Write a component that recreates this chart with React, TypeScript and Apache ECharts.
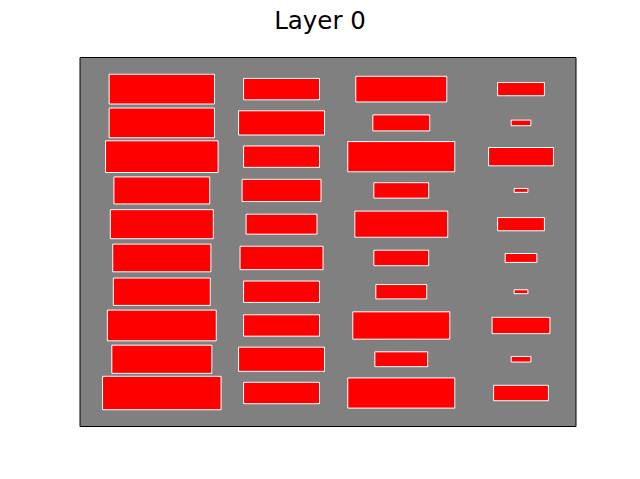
import React, { useEffect, useRef } from "react";
import * as echarts from "echarts";

// Layer 0: 4 columns x 10 rows of squares-in-data-units, sizes per column (top row first)
const columns = [0, 1, 2, 3];
const rows = [0, 1, 2, 3, 4, 5, 6, 7, 8, 9];
const col0Sizes = [0.88, 0.88, 0.94, 0.8, 0.86, 0.82, 0.81, 0.91, 0.835, 0.99];
const col1Sizes = [0.634, 0.718, 0.634, 0.659, 0.592, 0.693, 0.634, 0.634, 0.718, 0.634];
const col2Sizes = [0.76, 0.475, 0.894, 0.458, 0.776, 0.458, 0.425, 0.81, 0.441, 0.894];
const col3Sizes = [0.391, 0.165, 0.542, 0.115, 0.391, 0.265, 0.115, 0.483, 0.165, 0.458];
const titleText = "Layer 0";

export default function App() {
  const ref = useRef<HTMLDivElement>(null);
  useEffect(() => {
    if (!ref.current) return;
    const chart = echarts.init(ref.current, undefined, { renderer: "svg" });
    const sizes = [col0Sizes, col1Sizes, col2Sizes, col3Sizes];
    const data: number[][] = [];
    columns.forEach((c, ci) => {
      rows.forEach((r, ri) => {
        data.push([c, r, sizes[ci][ri]]);
      });
    });
    // autoscale like matplotlib: data extent plus 5% margins
    let x0 = Infinity, x1 = -Infinity, y0 = Infinity, y1 = -Infinity;
    data.forEach(([c, r, s]) => {
      x0 = Math.min(x0, c - s / 2);
      x1 = Math.max(x1, c + s / 2);
      y0 = Math.min(y0, r - s / 2);
      y1 = Math.max(y1, r + s / 2);
    });
    const mx = (x1 - x0) * 0.05;
    const my = (y1 - y0) * 0.05;

    chart.setOption({
      animation: false,
      title: {
        text: titleText,
        left: "center",
        top: 3,
        textStyle: {
          fontFamily: "DejaVu Sans",
          fontSize: 24.5,
          fontWeight: "normal",
          color: "#000",
        },
      },
      grid: {
        left: 80,
        right: 64,
        top: 57.5,
        bottom: 52.5,
        show: true,
        backgroundColor: "#808080",
        borderColor: "#000",
        borderWidth: 1,
      },
      xAxis: {
        type: "value",
        min: x0 - mx,
        max: x1 + mx,
        show: false,
        splitLine: { show: false },
      },
      yAxis: {
        type: "value",
        inverse: true,
        min: y0 - my,
        max: y1 + my,
        show: false,
        splitLine: { show: false },
      },
      series: [
        {
          type: "custom",
          data,
          clip: false,
          renderItem: (params: any, api: any) => {
            const c = api.value(0);
            const r = api.value(1);
            const s = api.value(2);
            const center = api.coord([c, r]);
            const sz = api.size([s, s]);
            return {
              type: "rect",
              shape: {
                x: center[0] - sz[0] / 2,
                y: center[1] - sz[1] / 2,
                width: sz[0],
                height: sz[1],
              },
              style: { fill: "#ff0000", stroke: "#ffffff", lineWidth: 1 },
            };
          },
        },
      ],
    });
    return () => chart.dispose();
  }, []);
  return <div ref={ref} style={{ width: 640, height: 479, position: "absolute", left: 0, top: 0 }} />;
}
